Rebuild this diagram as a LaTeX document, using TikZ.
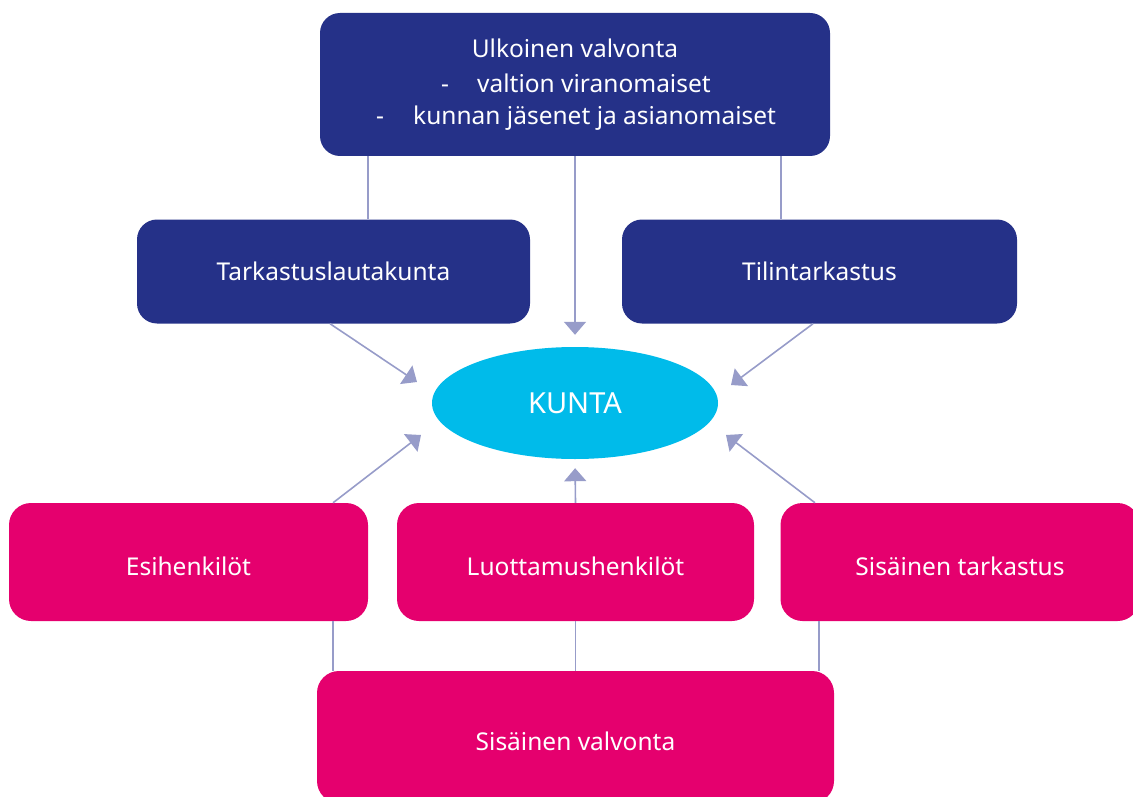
\documentclass[tikz,border=0pt]{standalone}
\usepackage{fontspec}
\setmainfont{Noto Sans}
\usetikzlibrary{arrows.meta,shapes.geometric,calc}
\definecolor{navy}{HTML}{253188}
\definecolor{magenta}{HTML}{E5006E}
\definecolor{sky}{HTML}{00BBEA}
\definecolor{conn}{HTML}{979CC9}
\tikzset{
  bluebox/.style={rectangle, rounded corners=20pt, fill=navy, text=white, inner sep=0pt},
  pinkbox/.style={rectangle, rounded corners=22pt, fill=magenta, text=white, inner sep=0pt, text height=26pt, text depth=0pt},
  lbl/.style={text=white, font=\fontsize{24.5}{29}\selectfont, inner sep=0pt},
  conline/.style={draw=conn, line width=1.6pt},
  conarrow/.style={conline, -{Triangle[length=13pt,width=22pt]}},
}
\begin{document}
\begin{tikzpicture}[x=1pt,y=-1pt]
\useasboundingbox (0,0) rectangle (1133,797);
\clip (0,0) rectangle (1133,797);
% boxes
\node[bluebox, minimum width=510pt, minimum height=143pt] (top) at (575,84.5) {};
\node[lbl, anchor=base] (t1) at (575,58) {Ulkoinen valvonta};
\node[lbl, anchor=base west] (d1) at (441,93) {-};
\node[lbl, anchor=base west] (t2) at (477,93) {valtion viranomaiset};
\node[lbl, anchor=base west] (d2) at (376,125) {-};
\node[lbl, anchor=base west] (t3) at (413,125) {kunnan jäsenet ja asianomaiset};
\node[bluebox, minimum width=393pt, minimum height=104pt, lbl] (tl) at (333.5,271.5) {Tarkastuslautakunta};
\node[bluebox, minimum width=395pt, minimum height=104pt, lbl] (tt) at (819.5,271.5) {Tilintarkastus};
\node[ellipse, fill=sky, minimum width=286pt, minimum height=112pt, lbl, font=\fontsize{29}{34}\selectfont] (kunta) at (575,403) {KUNTA};
\node[pinkbox, minimum width=359pt, minimum height=118pt, lbl] (esi) at (188.5,562) {Esihenkilöt};
\node[pinkbox, minimum width=357pt, minimum height=118pt, lbl] (luo) at (575.5,562) {Luottamushenkilöt};
\node[pinkbox, minimum width=359pt, minimum height=118pt, lbl] (sis) at (960,562) {Sisäinen tarkastus};
\node[pinkbox, minimum width=517pt, minimum height=132pt, lbl] (bot) at (575.5,737) {Sisäinen valvonta};
% arrow end points
\coordinate (a1) at (417,382);
\coordinate (a2) at (731,385);
\coordinate (a3) at (421,435);
\coordinate (a4) at (726,435);
% connectors
\draw[conline] ([xshift=-207pt]top.south) -- ([xshift=-207pt]top.south |- tl.north);
\draw[conline] ([xshift=206pt]top.south) -- ([xshift=206pt]top.south |- tt.north);
\draw[conarrow, shorten >=12pt] (top.south) -- (kunta.north);
\draw[conarrow] ([xshift=-3.5pt]tl.south) -- (a1);
\draw[conarrow] ([xshift=-6.5pt]tt.south) -- (a2);
\draw[conarrow] ([xshift=144.5pt]esi.north) -- (a3);
\draw[conarrow] ([xshift=-145pt]sis.north) -- (a4);
\draw[conarrow, shorten >=9pt] (luo.north) -- (kunta.south);
\draw[conline] ([xshift=144.5pt]esi.south) -- ([xshift=144.5pt]esi.south |- bot.north);
\draw[conline] (luo.south) -- (luo.south |- bot.north);
\draw[conline] ([xshift=-141pt]sis.south) -- ([xshift=-141pt]sis.south |- bot.north);
\end{tikzpicture}
\end{document}
